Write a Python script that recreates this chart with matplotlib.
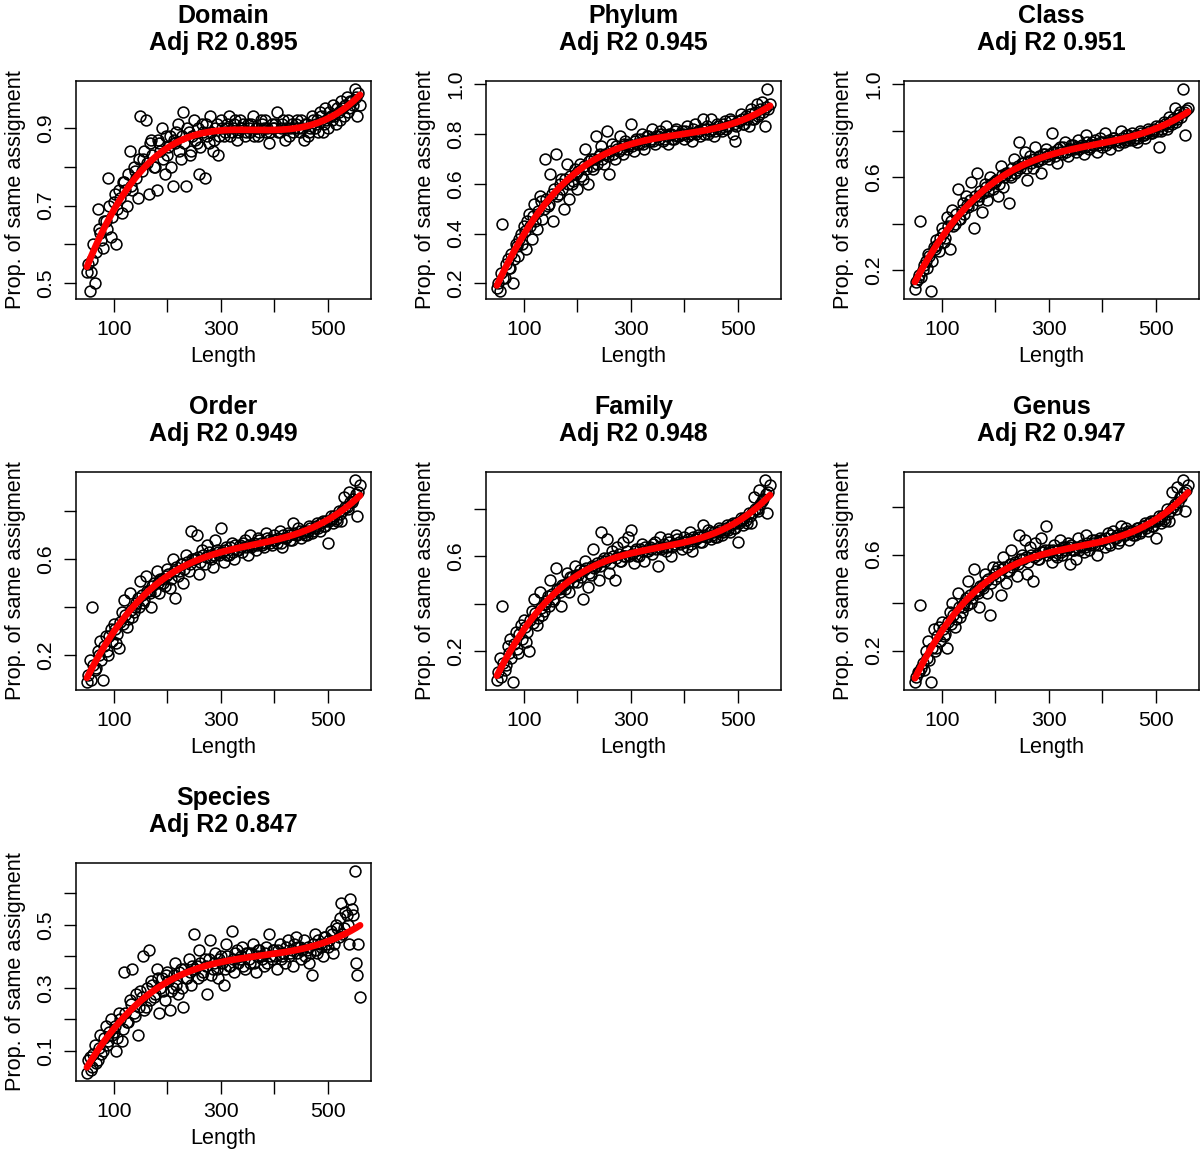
import numpy as np
import matplotlib.pyplot as plt

plt.rcParams['font.family'] = ['Liberation Sans', 'DejaVu Sans']

# read lengths: two interleaved sets of points, every 5 bp
lengths_a = np.arange(50, 561, 5)
lengths_b = np.arange(52, 558, 5)

ranks = ['Domain', 'Phylum', 'Class', 'Order', 'Family', 'Genus', 'Species']
adj_r2 = ['0.895', '0.945', '0.951', '0.949', '0.948', '0.947', '0.847']

domain_a = [0.53, 0.48, 0.56, 0.50, 0.69, 0.63, 0.59, 0.66, 0.77, 0.62,
            0.71, 0.60, 0.74, 0.68, 0.76, 0.70, 0.84, 0.74, 0.79, 0.72,
            0.93, 0.82, 0.92, 0.73, 0.87, 0.80, 0.74, 0.86, 0.90, 0.78,
            0.83, 0.88, 0.75, 0.86, 0.91, 0.82, 0.94, 0.75, 0.89, 0.84,
            0.92, 0.86, 0.78, 0.91, 0.77, 0.88, 0.93, 0.84, 0.90, 0.83,
            0.92, 0.88, 0.90, 0.93, 0.89, 0.91, 0.87, 0.92, 0.90, 0.88,
            0.91, 0.89, 0.93, 0.90, 0.88, 0.92, 0.90, 0.89, 0.86, 0.91,
            0.90, 0.94, 0.89, 0.91, 0.87, 0.92, 0.90, 0.89, 0.91, 0.90,
            0.92, 0.87, 0.91, 0.89, 0.93, 0.90, 0.92, 0.94, 0.89, 0.95,
            0.90, 0.93, 0.96, 0.91, 0.94, 0.97, 0.93, 0.98, 0.95, 0.97,
            1.00, 0.93, 0.96]
domain_b = [0.55, 0.53, 0.60, 0.58, 0.64, 0.61, 0.66, 0.64, 0.70, 0.67,
            0.73, 0.69, 0.72, 0.76, 0.74, 0.78, 0.75, 0.80, 0.77, 0.82,
            0.79, 0.84, 0.81, 0.86, 0.83, 0.80, 0.87, 0.84, 0.82, 0.88,
            0.85, 0.80, 0.87, 0.89, 0.84, 0.88, 0.86, 0.90, 0.83, 0.88,
            0.87, 0.90, 0.85, 0.89, 0.91, 0.86, 0.89, 0.87, 0.91, 0.88,
            0.90, 0.89, 0.91, 0.88, 0.90, 0.92, 0.89, 0.90, 0.91, 0.89,
            0.90, 0.91, 0.88, 0.90, 0.89, 0.91, 0.92, 0.90, 0.89, 0.90,
            0.91, 0.89, 0.90, 0.92, 0.90, 0.88, 0.91, 0.90, 0.92, 0.89,
            0.90, 0.91, 0.88, 0.90, 0.92, 0.91, 0.89, 0.93, 0.91, 0.92,
            0.94, 0.92, 0.93, 0.95, 0.92, 0.95, 0.96, 0.94, 0.97, 0.96,
            0.98, 0.99]

phylum_a = [0.18, 0.17, 0.44, 0.22, 0.30, 0.26, 0.20, 0.36, 0.31, 0.40,
            0.43, 0.34, 0.48, 0.38, 0.52, 0.42, 0.55, 0.46, 0.70, 0.51,
            0.64, 0.45, 0.72, 0.56, 0.62, 0.50, 0.68, 0.54, 0.60, 0.66,
            0.58, 0.68, 0.62, 0.74, 0.60, 0.70, 0.66, 0.79, 0.71, 0.75,
            0.68, 0.81, 0.64, 0.76, 0.70, 0.74, 0.79, 0.72, 0.77, 0.75,
            0.84, 0.73, 0.78, 0.76, 0.80, 0.74, 0.79, 0.77, 0.82, 0.76,
            0.79, 0.81, 0.77, 0.83, 0.76, 0.80, 0.78, 0.82, 0.79, 0.81,
            0.78, 0.83, 0.80, 0.77, 0.84, 0.81, 0.79, 0.86, 0.82, 0.80,
            0.86, 0.79, 0.84, 0.82, 0.81, 0.85, 0.83, 0.86, 0.80, 0.77,
            0.85, 0.88, 0.84, 0.87, 0.83, 0.90, 0.86, 0.92, 0.88, 0.93,
            0.83, 0.98, 0.92]
phylum_b = [0.20, 0.24, 0.22, 0.28, 0.26, 0.32, 0.30, 0.35, 0.38, 0.36,
            0.41, 0.45, 0.43, 0.47, 0.45, 0.49, 0.53, 0.50, 0.54, 0.52,
            0.56, 0.58, 0.55, 0.60, 0.58, 0.62, 0.60, 0.63, 0.61, 0.64,
            0.65, 0.63, 0.67, 0.66, 0.69, 0.67, 0.70, 0.68, 0.72, 0.70,
            0.72, 0.71, 0.73, 0.72, 0.75, 0.73, 0.74, 0.76, 0.74, 0.76,
            0.75, 0.77, 0.76, 0.78, 0.76, 0.77, 0.79, 0.78, 0.77, 0.79,
            0.78, 0.80, 0.78, 0.79, 0.80, 0.78, 0.81, 0.79, 0.80, 0.80,
            0.81, 0.79, 0.80, 0.82, 0.80, 0.81, 0.82, 0.80, 0.83, 0.81,
            0.82, 0.81, 0.83, 0.82, 0.84, 0.82, 0.83, 0.85, 0.84, 0.83,
            0.85, 0.86, 0.84, 0.86, 0.88, 0.86, 0.89, 0.87, 0.90, 0.89,
            0.91, 0.90]

class_a = [0.12, 0.16, 0.41, 0.20, 0.24, 0.27, 0.11, 0.30, 0.33, 0.28,
           0.38, 0.32, 0.43, 0.29, 0.46, 0.40, 0.55, 0.42, 0.49, 0.52,
           0.47, 0.58, 0.38, 0.62, 0.52, 0.45, 0.57, 0.50, 0.60, 0.55,
           0.58, 0.52, 0.65, 0.56, 0.62, 0.49, 0.60, 0.68, 0.63, 0.75,
           0.66, 0.71, 0.59, 0.69, 0.64, 0.73, 0.67, 0.62, 0.70, 0.72,
           0.68, 0.79, 0.71, 0.66, 0.73, 0.70, 0.75, 0.69, 0.72, 0.74,
           0.71, 0.76, 0.73, 0.70, 0.78, 0.72, 0.75, 0.74, 0.71, 0.77,
           0.73, 0.79, 0.75, 0.72, 0.77, 0.76, 0.74, 0.80, 0.75, 0.78,
           0.76, 0.79, 0.77, 0.75, 0.80, 0.78, 0.77, 0.81, 0.79, 0.80,
           0.82, 0.73, 0.80, 0.84, 0.81, 0.86, 0.83, 0.90, 0.85, 0.88,
           0.98, 0.78, 0.90]
class_b = [0.15, 0.18, 0.17, 0.22, 0.21, 0.26, 0.24, 0.29, 0.31, 0.34,
           0.36, 0.34, 0.39, 0.41, 0.39, 0.44, 0.42, 0.46, 0.44, 0.48,
           0.50, 0.48, 0.52, 0.50, 0.54, 0.53, 0.56, 0.54, 0.57, 0.58,
           0.59, 0.57, 0.61, 0.60, 0.62, 0.61, 0.64, 0.62, 0.65, 0.64,
           0.66, 0.64, 0.67, 0.66, 0.68, 0.67, 0.69, 0.68, 0.70, 0.69,
           0.70, 0.71, 0.69, 0.72, 0.71, 0.73, 0.71, 0.72, 0.74, 0.72,
           0.73, 0.72, 0.74, 0.73, 0.75, 0.73, 0.74, 0.76, 0.74, 0.75,
           0.75, 0.74, 0.76, 0.75, 0.77, 0.76, 0.75, 0.77, 0.76, 0.78,
           0.77, 0.76, 0.78, 0.77, 0.79, 0.78, 0.79, 0.80, 0.79, 0.81,
           0.80, 0.82, 0.81, 0.83, 0.82, 0.84, 0.85, 0.84, 0.87, 0.86,
           0.88, 0.89]

order_a = [0.09, 0.18, 0.40, 0.14, 0.22, 0.26, 0.10, 0.28, 0.20, 0.31,
           0.33, 0.25, 0.23, 0.38, 0.43, 0.32, 0.46, 0.36, 0.40, 0.44,
           0.51, 0.42, 0.53, 0.47, 0.40, 0.50, 0.55, 0.46, 0.52, 0.49,
           0.56, 0.48, 0.60, 0.44, 0.53, 0.58, 0.50, 0.62, 0.55, 0.72,
           0.60, 0.70, 0.54, 0.64, 0.58, 0.66, 0.61, 0.57, 0.68, 0.63,
           0.73, 0.59, 0.65, 0.62, 0.67, 0.60, 0.64, 0.66, 0.63, 0.68,
           0.62, 0.70, 0.66, 0.64, 0.69, 0.67, 0.65, 0.71, 0.68, 0.66,
           0.70, 0.67, 0.72, 0.65, 0.69, 0.71, 0.68, 0.75, 0.70, 0.73,
           0.69, 0.72, 0.70, 0.74, 0.71, 0.73, 0.75, 0.72, 0.76, 0.74,
           0.67, 0.78, 0.75, 0.77, 0.80, 0.76, 0.86, 0.82, 0.88, 0.84,
           0.93, 0.78, 0.91]
order_b = [0.12, 0.10, 0.16, 0.15, 0.20, 0.18, 0.24, 0.22, 0.28, 0.26,
           0.31, 0.29, 0.34, 0.33, 0.37, 0.35, 0.39, 0.38, 0.42, 0.40,
           0.45, 0.43, 0.47, 0.46, 0.49, 0.47, 0.50, 0.52, 0.50, 0.53,
           0.54, 0.52, 0.55, 0.57, 0.55, 0.58, 0.56, 0.59, 0.58, 0.60,
           0.60, 0.61, 0.59, 0.62, 0.61, 0.63, 0.60, 0.62, 0.64, 0.62,
           0.63, 0.64, 0.62, 0.65, 0.63, 0.66, 0.64, 0.65, 0.67, 0.65,
           0.66, 0.65, 0.67, 0.66, 0.68, 0.66, 0.67, 0.69, 0.67, 0.68,
           0.68, 0.69, 0.67, 0.70, 0.69, 0.70, 0.68, 0.71, 0.70, 0.72,
           0.71, 0.70, 0.72, 0.73, 0.72, 0.74, 0.73, 0.75, 0.74, 0.76,
           0.76, 0.77, 0.78, 0.76, 0.79, 0.80, 0.82, 0.81, 0.84, 0.85,
           0.87, 0.88]

family_a = [0.08, 0.17, 0.39, 0.12, 0.22, 0.25, 0.07, 0.28, 0.19, 0.31,
            0.33, 0.24, 0.20, 0.37, 0.42, 0.31, 0.45, 0.35, 0.40, 0.43,
            0.50, 0.41, 0.55, 0.46, 0.39, 0.48, 0.53, 0.45, 0.51, 0.56,
            0.49, 0.54, 0.42, 0.58, 0.47, 0.52, 0.63, 0.56, 0.50, 0.70,
            0.59, 0.67, 0.53, 0.62, 0.50, 0.64, 0.58, 0.66, 0.60, 0.68,
            0.71, 0.57, 0.63, 0.60, 0.65, 0.58, 0.62, 0.64, 0.61, 0.66,
            0.56, 0.68, 0.64, 0.62, 0.67, 0.60, 0.65, 0.69, 0.66, 0.63,
            0.68, 0.64, 0.70, 0.62, 0.67, 0.69, 0.66, 0.73, 0.68, 0.71,
            0.67, 0.70, 0.68, 0.72, 0.69, 0.71, 0.73, 0.70, 0.74, 0.72,
            0.66, 0.76, 0.73, 0.75, 0.78, 0.74, 0.85, 0.80, 0.88, 0.83,
            0.92, 0.78, 0.90]
family_b = [0.11, 0.09, 0.15, 0.14, 0.19, 0.17, 0.23, 0.21, 0.27, 0.25,
            0.30, 0.28, 0.33, 0.32, 0.36, 0.34, 0.38, 0.37, 0.41, 0.39,
            0.44, 0.42, 0.46, 0.45, 0.48, 0.46, 0.49, 0.51, 0.49, 0.52,
            0.52, 0.51, 0.54, 0.55, 0.53, 0.56, 0.55, 0.57, 0.56, 0.58,
            0.58, 0.59, 0.57, 0.60, 0.59, 0.61, 0.58, 0.60, 0.62, 0.60,
            0.61, 0.62, 0.60, 0.63, 0.62, 0.64, 0.62, 0.63, 0.65, 0.63,
            0.64, 0.63, 0.65, 0.64, 0.66, 0.64, 0.65, 0.67, 0.65, 0.66,
            0.66, 0.67, 0.65, 0.68, 0.67, 0.68, 0.66, 0.69, 0.68, 0.70,
            0.69, 0.68, 0.70, 0.71, 0.70, 0.72, 0.71, 0.73, 0.72, 0.74,
            0.74, 0.75, 0.76, 0.74, 0.77, 0.78, 0.80, 0.79, 0.82, 0.84,
            0.86, 0.87]

genus_a = [0.07, 0.11, 0.39, 0.15, 0.20, 0.24, 0.07, 0.29, 0.21, 0.30,
           0.32, 0.26, 0.21, 0.36, 0.40, 0.30, 0.44, 0.34, 0.38, 0.42,
           0.49, 0.40, 0.54, 0.45, 0.38, 0.47, 0.52, 0.44, 0.35, 0.55,
           0.50, 0.55, 0.43, 0.59, 0.48, 0.53, 0.62, 0.56, 0.51, 0.68,
           0.60, 0.66, 0.52, 0.63, 0.49, 0.65, 0.58, 0.67, 0.61, 0.72,
           0.62, 0.57, 0.64, 0.59, 0.66, 0.60, 0.63, 0.65, 0.56, 0.62,
           0.58, 0.67, 0.63, 0.61, 0.68, 0.62, 0.66, 0.64, 0.60, 0.67,
           0.66, 0.63, 0.69, 0.64, 0.70, 0.67, 0.65, 0.72, 0.68, 0.71,
           0.66, 0.70, 0.68, 0.71, 0.69, 0.72, 0.73, 0.70, 0.74, 0.72,
           0.67, 0.76, 0.73, 0.75, 0.79, 0.74, 0.86, 0.81, 0.88, 0.84,
           0.91, 0.78, 0.89]
genus_b = [0.09, 0.11, 0.13, 0.12, 0.17, 0.16, 0.21, 0.20, 0.26, 0.24,
           0.29, 0.27, 0.32, 0.31, 0.35, 0.33, 0.38, 0.36, 0.40, 0.39,
           0.43, 0.42, 0.45, 0.44, 0.47, 0.46, 0.49, 0.50, 0.48, 0.52,
           0.53, 0.51, 0.54, 0.55, 0.53, 0.56, 0.55, 0.57, 0.56, 0.58,
           0.58, 0.59, 0.57, 0.60, 0.59, 0.60, 0.58, 0.61, 0.62, 0.60,
           0.61, 0.62, 0.60, 0.62, 0.61, 0.63, 0.62, 0.63, 0.64, 0.62,
           0.63, 0.62, 0.64, 0.63, 0.65, 0.64, 0.65, 0.66, 0.64, 0.66,
           0.66, 0.67, 0.65, 0.68, 0.67, 0.68, 0.66, 0.69, 0.68, 0.70,
           0.69, 0.68, 0.70, 0.71, 0.70, 0.72, 0.71, 0.73, 0.72, 0.74,
           0.74, 0.75, 0.76, 0.74, 0.77, 0.78, 0.80, 0.79, 0.82, 0.84,
           0.86, 0.87]

species_a = [0.03, 0.08, 0.05, 0.12, 0.07, 0.15, 0.10, 0.18, 0.13, 0.20,
             0.16, 0.10, 0.22, 0.13, 0.35, 0.19, 0.26, 0.36, 0.21, 0.15,
             0.29, 0.40, 0.24, 0.42, 0.32, 0.27, 0.36, 0.22, 0.33, 0.26,
             0.35, 0.23, 0.30, 0.38, 0.28, 0.36, 0.24, 0.33, 0.39, 0.31,
             0.47, 0.37, 0.42, 0.34, 0.39, 0.28, 0.45, 0.36, 0.41, 0.33,
             0.40, 0.31, 0.44, 0.37, 0.48, 0.35, 0.42, 0.39, 0.43, 0.36,
             0.41, 0.38, 0.44, 0.35, 0.42, 0.40, 0.37, 0.43, 0.47, 0.39,
             0.42, 0.36, 0.44, 0.40, 0.38, 0.45, 0.41, 0.37, 0.46, 0.43,
             0.39, 0.45, 0.42, 0.38, 0.34, 0.47, 0.41, 0.44, 0.40, 0.46,
             0.43, 0.48, 0.41, 0.50, 0.46, 0.57, 0.49, 0.53, 0.44, 0.55,
             0.67, 0.34, 0.27]
species_b = [0.07, 0.04, 0.09, 0.06, 0.11, 0.09, 0.14, 0.12, 0.16, 0.15,
             0.18, 0.14, 0.20, 0.17, 0.22, 0.19, 0.25, 0.22, 0.28, 0.24,
             0.27, 0.23, 0.30, 0.26, 0.31, 0.28, 0.33, 0.30, 0.29, 0.34,
             0.32, 0.29, 0.34, 0.31, 0.35, 0.30, 0.36, 0.33, 0.35, 0.37,
             0.36, 0.33, 0.38, 0.35, 0.37, 0.39, 0.34, 0.38, 0.36, 0.39,
             0.38, 0.36, 0.40, 0.37, 0.39, 0.41, 0.38, 0.40, 0.37, 0.41,
             0.39, 0.41, 0.38, 0.40, 0.42, 0.39, 0.41, 0.38, 0.40, 0.42,
             0.40, 0.42, 0.39, 0.41, 0.43, 0.40, 0.42, 0.44, 0.41, 0.43,
             0.42, 0.40, 0.43, 0.41, 0.44, 0.42, 0.45, 0.43, 0.46, 0.44,
             0.45, 0.47, 0.44, 0.49, 0.52, 0.47, 0.54, 0.50, 0.58, 0.53,
             0.38, 0.44]

series_a = [domain_a, phylum_a, class_a, order_a, family_a, genus_a, species_a]
series_b = [domain_b, phylum_b, class_b, order_b, family_b, genus_b, species_b]

x_ticks = [100, 200, 300, 400, 500]
x_labels = ['100', '', '300', '', '500']
y_ticks = [
    [0.5, 0.6, 0.7, 0.8, 0.9],
    [0.2, 0.4, 0.6, 0.8, 1.0],
    [0.2, 0.4, 0.6, 0.8, 1.0],
    [0.2, 0.4, 0.6, 0.8],
    [0.2, 0.4, 0.6, 0.8],
    [0.2, 0.4, 0.6, 0.8],
    [0.1, 0.2, 0.3, 0.4, 0.5, 0.6],
]
y_labels = [
    ['0.5', '', '0.7', '', '0.9'],
    ['0.2', '0.4', '0.6', '0.8', '1.0'],
    ['0.2', '', '0.6', '', '1.0'],
    ['0.2', '', '0.6', ''],
    ['0.2', '', '0.6', ''],
    ['0.2', '', '0.6', ''],
    ['0.1', '', '0.3', '', '0.5', ''],
]

W, H = 1200, 1152
fig = plt.figure(figsize=(W / 100, H / 100), dpi=100)

col_left = [76, 486, 904]
row_top = [81, 472, 863]
box_w, box_h = 295, 218

for i, name in enumerate(ranks):
    r, c = divmod(i, 3)
    ax = fig.add_axes([col_left[c] / W, 1 - (row_top[r] + box_h) / H,
                       box_w / W, box_h / H])
    x = np.concatenate([lengths_a, lengths_b])
    y = np.concatenate([series_a[i], series_b[i]])
    ax.plot(x, y, 'o', ms=7.8, mfc='none', mec='black', mew=1.15)

    # cubic polynomial fit, like lm(y ~ poly(x, 3))
    coef = np.polyfit(x, y, 3)
    xs = np.linspace(x.min(), x.max(), 300)
    ax.plot(xs, np.polyval(coef, xs), color='red', lw=4.8, solid_capstyle='round')

    ax.margins(0.04)
    ax.set_xticks(x_ticks)
    ax.set_xticklabels(x_labels)
    ax.set_yticks(y_ticks[i])
    ax.set_yticklabels(y_labels[i], rotation=90, va='center')
    ax.tick_params(length=9, width=1, labelsize=15.3, pad=6)
    for s in ax.spines.values():
        s.set_linewidth(1.1)

    ax.set_xlabel('Length', fontsize=15.6, labelpad=5)
    ax.set_ylabel('Prop. of same assigment', fontsize=15.6, labelpad=7)
    ax.set_title(name + '\nAdj R2 ' + adj_r2[i], fontsize=18, fontweight='bold',
                 pad=22, linespacing=1.2)

fig.savefig('out.png', dpi=100)
